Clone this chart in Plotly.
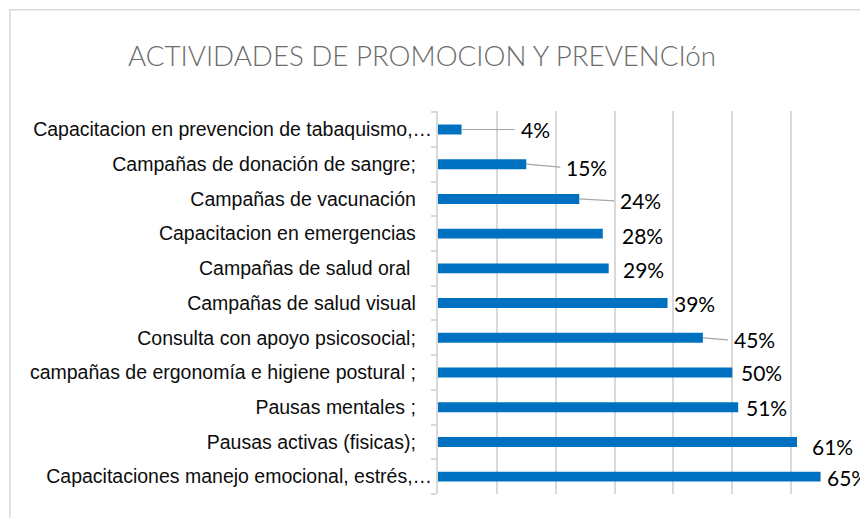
import plotly.graph_objects as go

# ---- data (top to bottom as displayed) ----
categories = [
    "Capacitacion en prevencion de tabaquismo,…",
    "Campañas de donación de sangre;",
    "Campañas de vacunación",
    "Capacitacion en emergencias",
    "Campañas de salud oral ",
    "Campañas de salud visual",
    "Consulta con apoyo psicosocial;",
    "campañas de ergonomía e higiene postural ;",
    "Pausas mentales ;",
    "Pausas activas (fisicas);",
    "Capacitaciones manejo emocional, estrés,…",
]
values = [0.04, 0.15, 0.24, 0.28, 0.29, 0.39, 0.45, 0.50, 0.51, 0.61, 0.65]
value_labels = ["4%", "15%", "24%", "28%", "29%", "39%", "45%", "50%", "51%", "61%", "65%"]
title_text = "ACTIVIDADES DE PROMOCION Y PREVENCIón"

# ---- label styling (pixel offsets of the hand-placed data labels) ----
label_dx = [59, 40, 41, 21, 16, 8, 31, 11, 10, 17, 8]
label_dy = [0, -3, -2, -2, -1, 0, -2, 0, 0, -5, -1]
leader = [True, True, True, False, False, False, True, False, False, False, False]

BLUE = "#0070C0"
GRID = "#d9d9d9"
OFF = 8  # page body margin offset

W, H = 868 - OFF, 518 - OFF
L, R_EDGE, T, B_EDGE = 438 - OFF, 850 - OFF, 110.5 - OFF, 494.5 - OFF
PW, PH = R_EDGE - L, B_EDGE - T


def tick_label(c):
    if c.endswith("…"):
        return c
    stripped = c.rstrip(" ")
    n_trailing = len(c) - len(stripped)
    return stripped + "\u00a0" * (3 + n_trailing)


fig = go.Figure()
fig.add_trace(go.Bar(
    x=values,
    y=categories,
    orientation="h",
    marker=dict(color=BLUE, line=dict(width=0)),
    hoverinfo="skip",
))

lab_font = dict(family="Lato, Carlito, sans-serif", size=21, color="#000000")
annotations = []
for c, v, t, dx, dy, ld in zip(categories, values, value_labels, label_dx, label_dy, leader):
    if ld:
        annotations.append(dict(
            x=v, y=c, xref="x", yref="y", text=t,
            showarrow=True, arrowhead=0, arrowwidth=1.2, arrowcolor="#a6a6a6",
            ax=dx - 6, ay=-dy, axref="pixel", ayref="pixel",
            xanchor="left", yanchor="middle", borderpad=5, standoff=0,
            font=lab_font,
        ))
    else:
        annotations.append(dict(
            x=v, y=c, xref="x", yref="y", text=t, showarrow=False,
            xanchor="left", yanchor="middle", xshift=dx - 4, yshift=dy,
            font=lab_font,
        ))

fig.update_layout(
    width=W, height=H,
    margin=dict(l=L, r=W - R_EDGE, t=T, b=H - B_EDGE),
    paper_bgcolor="white", plot_bgcolor="white",
    showlegend=False,
    bargap=0.713,
    title=dict(
        text=title_text, x=(422 - OFF) / W, xanchor="center", y=1 - (56 - OFF) / H, yanchor="middle",
        xref="container", yref="container",
        font=dict(family="Lato, Carlito, sans-serif", size=27.7, color="#6b6b6b", weight=300),
    ),
    annotations=annotations,
    shapes=[dict(
        type="rect", xref="paper", yref="paper",
        x0=(10 - OFF - L) / PW, x1=1.3, y0=-0.3, y1=1 + (T - 0.9) / PH,
        line=dict(color=GRID, width=1.5), fillcolor="rgba(0,0,0,0)", layer="below",
    )],
    xaxis=dict(
        range=[0, 0.7], dtick=0.1, tick0=0,
        showgrid=True, gridcolor=GRID, gridwidth=2,
        showticklabels=False, zeroline=False, showline=False, ticks="",
        fixedrange=True,
    ),
    yaxis=dict(
        type="category", autorange="reversed",
        tickmode="array", tickvals=categories,
        ticktext=[tick_label(c) for c in categories],
        tickson="boundaries", ticks="outside", ticklen=5, tickcolor=GRID, tickwidth=1.5,
        showline=True, linecolor=GRID, linewidth=2,
        showgrid=False, ticklabelstandoff=0,
        tickfont=dict(family="Liberation Sans, Arial, sans-serif", size=19.5, color="#0d0d0d"),
        fixedrange=True,
    ),
)

fig.write_html("out.html")
